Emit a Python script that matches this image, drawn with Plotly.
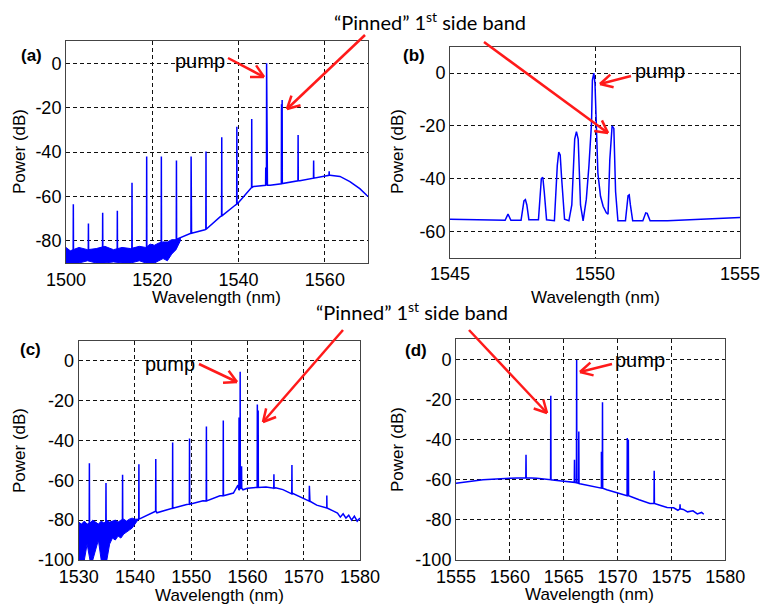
import math
import plotly.graph_objects as go
from plotly.subplots import make_subplots

W, H = 764, 608

# (a) comb 1500-1570 nm
a_base_wl = [1500, 1510, 1520, 1524, 1526, 1529.1, 1532.2, 1535.7, 1539.2, 1541.1, 1542.7, 1543.5,
             1547.3, 1550, 1554.2, 1557.3, 1561.2, 1563.5, 1565.8, 1568.1, 1569.7, 1570]
a_base_pw = [-86, -86, -85, -82, -79, -76.6, -75, -69.2, -64, -60.3, -56.5, -55.5,
             -55, -54.3, -53, -51.8, -50.5, -51, -53.3, -56.5, -59.5, -60]
a_peak_wl = [1501.7, 1505.2, 1508.5, 1511.9, 1515.3, 1518.7, 1522.1, 1525.6, 1529.0, 1532.45,
             1536.1, 1539.6, 1543.05, 1546.3, 1546.5, 1546.65, 1549.95, 1550.1, 1553.8, 1557.4, 1561.0]
a_peak_top = [-63.5, -72.2, -67.4, -66.5, -53.8, -42, -42, -43.8, -42, -39.8,
              -33.4, -28.6, -25.1, -47, 0, -16.5, -18.5, -16.6, -32.3, -43.8, -48.7]
a_peak_foot = [-86, -86, -86, -86, -86, -85, -84, -80, -76.6, -74.8,
               -68.8, -63.5, -56, -55, -55, -55, -54.3, -54.2, -53, -51.8, -50.5]
a_noise_wl = [1500, 1501, 1503, 1505, 1507, 1509, 1511, 1513, 1515, 1517, 1518.5, 1519.5,
              1520.5, 1521.5, 1522.5, 1523.5, 1524.5, 1525.5, 1526.5]
a_noise_hi = [-83, -84.5, -83, -84, -83.5, -82.5, -84, -83, -83.5, -82.5, -83, -81.5,
              -82, -81, -80.5, -80.5, -79.5, -79.5, -78.8]
a_noise_lo = [-90, -90, -90, -89, -90, -90, -89.5, -90, -90, -89, -90, -90,
              -90, -89, -88, -89, -86, -84, -80]

# (b) zoom around the pump, 1545-1555 nm
b_wl = [1545.0, 1546.5, 1546.9, 1547.0, 1547.1, 1547.45, 1547.55, 1547.6, 1547.65, 1547.72,
        1548.05, 1548.15, 1548.2, 1548.25, 1548.33, 1548.6, 1548.7, 1548.75, 1548.8, 1548.85,
        1548.95, 1549.1, 1549.2, 1549.3, 1549.36, 1549.42, 1549.5, 1549.59, 1549.7, 1549.79,
        1549.88, 1549.91, 1549.96, 1550.0, 1550.05, 1550.1, 1550.19, 1550.28, 1550.39, 1550.45,
        1550.51, 1550.59, 1550.65, 1550.71, 1550.79, 1551.05, 1551.14, 1551.18, 1551.22, 1551.3,
        1551.65, 1551.75, 1551.8, 1551.9, 1552.5, 1553.5, 1554.5, 1555.0]
b_pw = [-55.4, -55.6, -55.8, -53.5, -55.8, -55.8, -48.5, -48, -50, -55.6,
        -55.6, -40, -39.5, -45, -55.6, -56, -35, -30, -31, -40,
        -55.4, -56, -50, -25, -22.2, -25, -50, -56, -47.9, -35.3,
        -19, -2.7, 0, -4, -23, -38, -46.7, -50.5, -53, -53.5,
        -33, -20, -21, -45, -56, -56, -46.5, -46.2, -50, -56,
        -56, -53, -53.2, -56, -56, -55.6, -55, -54.8]

# (c) comb 1530-1580 nm
c_base_wl = [1530, 1533, 1536, 1538.5, 1540.3, 1543.9, 1546.2, 1549.2, 1552.1, 1555.1, 1557.5,
             1558.3, 1559.2, 1560, 1561.5, 1563.3, 1565, 1566.3, 1568.1, 1569.3, 1571.1, 1572.3,
             1574.1, 1575.3, 1576, 1576.5, 1577, 1577.5, 1578, 1578.5, 1579, 1579.5, 1580]
c_base_pw = [-84, -84, -84, -82, -79.7, -76.3, -74.3, -72.2, -70.3, -67.8, -66.4,
             -62.5, -64.8, -64, -63.6, -63.4, -63.8, -64.7, -66.7, -68.4, -70.5, -72.5,
             -73.9, -75.5, -76.5, -78.5, -76.8, -79, -77.5, -80, -78, -80.5, -79]
c_peak_wl = [1531.9, 1534.85, 1537.8, 1540.7, 1543.7, 1546.7, 1549.7, 1552.7, 1555.7,
             1558.5, 1558.7, 1558.95, 1561.75, 1561.9, 1564.7, 1567.9, 1571.0, 1574.1]
c_peak_top = [-51.5, -61.4, -57.3, -52, -49.3, -41, -39, -33, -30,
              -28.5, -5.6, -53, -22, -25, -57, -52.3, -62.8, -67.7]
c_peak_foot = [-82, -82, -81, -79.5, -75.5, -74, -72, -70.4, -67.8,
               -65, -64, -64, -63.6, -63.6, -64, -66.8, -70.5, -73.9]
c_noise_wl = [1530, 1530.5, 1531, 1531.5, 1532, 1532.5, 1533, 1533.5, 1534, 1534.5, 1535,
              1535.5, 1536, 1536.5, 1537, 1537.5, 1538, 1538.5, 1539, 1539.5, 1540, 1540.5]
c_noise_hi = [-81, -82, -80.5, -82, -81.5, -80, -81, -82, -80.5, -81.5, -80,
              -81, -80.5, -80, -81, -80, -79.5, -80.5, -79.5, -79, -79.5, -79.5]
c_noise_lo = [-100, -100, -100, -92, -100, -100, -95, -90, -100, -100, -100,
              -92, -89, -90, -88, -89, -87, -86, -85, -84, -82, -80]

# (d) comb 1555-1578 nm
d_base_wl = [1555, 1557.5, 1560, 1561.4, 1562.5, 1563.7, 1564.8, 1565.9, 1566.5, 1567.4, 1568.5,
             1569, 1570, 1570.8, 1572, 1573, 1574, 1574.6, 1575.2, 1575.6, 1576.1, 1576.5,
             1577, 1577.4, 1577.8, 1578]
d_base_pw = [-61.7, -60, -59.2, -59, -59.3, -60, -60.6, -61.4, -62, -63, -64.2,
             -65, -66.5, -68, -70, -71.8, -72.8, -73.8, -74, -75.2, -74.8, -76,
             -75.5, -77, -76.3, -77.2]
d_peak_wl = [1561.5, 1563.8, 1566.0, 1566.2, 1566.4, 1568.5, 1568.6, 1570.9, 1571.0, 1573.4, 1575.8]
d_peak_top = [-47.6, -18.1, -50, -0.3, -36, -46, -21.4, -39.2, -40, -55.5, -72.2]
d_peak_foot = [-59, -60, -61.3, -61.5, -61.8, -64, -64.2, -68, -68, -71.8, -74.5]

x_ticks = {"a": [1500, 1520, 1540, 1560], "b": [1545, 1550, 1555],
           "c": [1530, 1540, 1550, 1560, 1570, 1580], "d": [1555, 1560, 1565, 1570, 1575, 1580]}
y_ticks = {"a": [0, -20, -40, -60, -80], "b": [0, -20, -40, -60],
           "c": [0, -20, -40, -60, -80, -100], "d": [0, -20, -40, -60, -80, -100]}
x_ranges = {"a": [1500, 1570], "b": [1545, 1555], "c": [1530, 1580], "d": [1555, 1580]}
y_ranges = {"a": [-90, 10], "b": [-70, 10], "c": [-100, 10], "d": [-100, 10]}

# plot boxes in pixels: left, top, right, bottom
boxes = {"a": (66, 41, 368, 263), "b": (450, 46.7, 740, 257.7),
         "c": (78.7, 340.7, 360, 560), "d": (456, 339.3, 725.3, 560)}
cells = {"a": (1, 1), "b": (1, 2), "c": (2, 1), "d": (2, 2)}

BLUE = "#0000FF"
RED = "#FF1A1A"
ARIAL = "Liberation Sans, Arial, sans-serif"


def spectrum(base_wl, base_pw, peak_wl, peak_top, peak_foot, half):
    pts = list(zip(base_wl, base_pw))
    for c, top, foot in zip(peak_wl, peak_top, peak_foot):
        pts += [(c - half, foot), (c, top), (c + half, foot)]
    pts.sort(key=lambda p: p[0])
    return [p[0] for p in pts], [p[1] for p in pts]


def px(x, y):
    return x / W, 1 - y / H


fig = make_subplots(rows=2, cols=2)

line = dict(color=BLUE, width=1.5)
for key, nwl, nhi, nlo in [("a", a_noise_wl, a_noise_hi, a_noise_lo),
                           ("c", c_noise_wl, c_noise_hi, c_noise_lo)]:
    r, c = cells[key]
    fig.add_trace(go.Scatter(x=nwl + nwl[::-1], y=nhi + nlo[::-1], fill="toself",
                             fillcolor=BLUE, line=dict(color=BLUE, width=1), mode="lines"),
                  row=r, col=c)

xa, ya = spectrum(a_base_wl, a_base_pw, a_peak_wl, a_peak_top, a_peak_foot, 0.04)
fig.add_trace(go.Scatter(x=xa, y=ya, mode="lines", line=line), row=1, col=1)
fig.add_trace(go.Scatter(x=b_wl, y=b_pw, mode="lines", line=line), row=1, col=2)
xc, yc = spectrum(c_base_wl, c_base_pw, c_peak_wl, c_peak_top, c_peak_foot, 0.03)
fig.add_trace(go.Scatter(x=xc, y=yc, mode="lines", line=line), row=2, col=1)
xd, yd = spectrum(d_base_wl, d_base_pw, d_peak_wl, d_peak_top, d_peak_foot, 0.02)
fig.add_trace(go.Scatter(x=xd, y=yd, mode="lines", line=line), row=2, col=2)

axis_common = dict(showline=True, mirror=True, linecolor="#444", linewidth=1, automargin=False,
                   showgrid=True, gridcolor="#111", gridwidth=1, griddash="4px,3px",
                   zeroline=False, ticks="", tickfont=dict(family=ARIAL, size=18, color="black"))
for key, (r, c) in cells.items():
    l, t, rr, b = boxes[key]
    fig.update_xaxes(range=x_ranges[key], tickvals=x_ticks[key],
                     ticktext=[str(v) for v in x_ticks[key]],
                     domain=[l / W, rr / W], row=r, col=c, **axis_common)
    fig.update_yaxes(range=y_ranges[key], tickvals=y_ticks[key],
                     ticktext=[str(v) for v in y_ticks[key]],
                     domain=[1 - b / H, 1 - t / H], row=r, col=c, **axis_common)

annotations = []


def text(s, x, y, size, family=ARIAL, angle=0):
    ax_, ay_ = px(x, y)
    annotations.append(dict(text=s, x=ax_, y=ay_, xref="paper", yref="paper",
                            xanchor="center", yanchor="middle", showarrow=False,
                            textangle=angle, font=dict(family=family, size=size, color="black")))


# axis titles
for key, tx, ty in [("a", 19, 152), ("b", 397, 152), ("c", 19, 451), ("d", 397, 450)]:
    text("Power (dB)", tx, ty, 17, angle=-90)
for tx, ty in [(216, 297), (595, 297), (219, 595), (589, 594)]:
    text("Wavelength (nm)", tx, ty, 17)
for lab, tx, ty in [("(a)", 31, 55), ("(b)", 414, 56), ("(c)", 30, 349), ("(d)", 416, 350)]:
    text("<b>%s</b>" % lab, tx, ty, 17)
for tx, ty in [(200, 61), (660, 71), (170, 364), (640, 360)]:
    text("pump", tx, ty, 20)
for tx, ty in [(430, 21), (412, 311)]:
    text("“Pinned” 1<sup>st</sup> side band", tx, ty, 20, family="Lato, Noto Sans, sans-serif")

# arrows: tail -> head in pixels
arrows = [((228, 58), (264, 77)), ((365, 35), (287, 109)), ((484, 42), (608, 133)),
          ((631, 76), (600, 84)), ((199, 364), (237, 382)), ((343, 330), (263, 422)),
          ((469, 330), (547, 413)), ((612, 364), (580, 372))]
shapes = []
for (tx, ty), (hx, hy) in arrows:
    x0, y0 = px(tx, ty)
    x1, y1 = px(hx, hy)
    shapes.append(dict(type="line", xref="paper", yref="paper", x0=x0, y0=y0, x1=x1, y1=y1,
                       line=dict(color=RED, width=2.5)))
    ang = math.atan2(hy - ty, hx - tx)
    for s in (1, -1):
        a2 = ang + math.pi + s * math.radians(28)
        ex, ey = hx + 14 * math.cos(a2), hy + 14 * math.sin(a2)
        e0, e1 = px(ex, ey)
        shapes.append(dict(type="line", xref="paper", yref="paper", x0=x1, y0=y1, x1=e0, y1=e1,
                           line=dict(color=RED, width=2.5)))

fig.update_layout(width=W, height=H, margin=dict(l=0, r=0, t=0, b=0),
                  paper_bgcolor="white", plot_bgcolor="white", showlegend=False,
                  annotations=annotations, shapes=shapes)

# the page's default body margin would shift the figure by 8px
fig.write_html("out.html", config={"displayModeBar": False},
               post_script="document.body.style.margin = '0px';")
